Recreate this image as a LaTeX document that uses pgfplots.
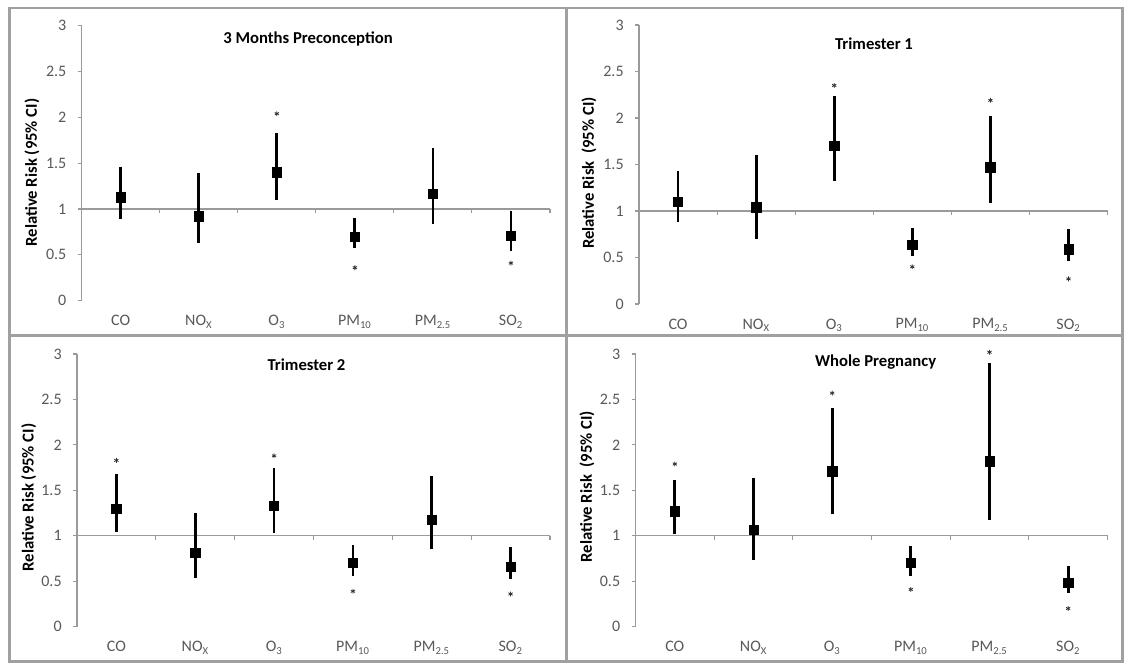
\documentclass[border=0pt]{standalone}
\usepackage{pgfplots}
\pgfplotsset{compat=1.18}
\usepackage{pgfplotstable}
\usepackage{fontspec}
\setmainfont{Carlito}
\definecolor{axisgray}{HTML}{9A9A9A}
\definecolor{framegray}{HTML}{A0A0A0}
\definecolor{ticktext}{HTML}{595959}

% x = category (0 CO, 1 NOx, 2 O3, 3 PM10, 4 PM2.5, 5 SO2); y = RR; ep/em = distance to upper/lower CI
\pgfplotstableread{
x y ep em
0 1.13 0.33 0.24
1 0.92 0.47 0.29
2 1.40 0.43 0.30
3 0.70 0.20 0.13
4 1.17 0.50 0.33
5 0.71 0.27 0.17
}\dataA
\pgfplotstableread{
x y
2 2.04
3 0.36
5 0.41
}\starA
\pgfplotstableread{
x y ep em
0 1.10 0.33 0.22
1 1.04 0.56 0.34
2 1.70 0.54 0.38
3 0.64 0.18 0.12
4 1.47 0.55 0.38
5 0.59 0.22 0.13
}\dataB
\pgfplotstableread{
x y
2 2.35
3 0.40
4 2.19
5 0.27
}\starB
\pgfplotstableread{
x y ep em
0 1.30 0.38 0.26
1 0.81 0.44 0.27
2 1.33 0.42 0.30
3 0.70 0.20 0.14
4 1.18 0.48 0.33
5 0.66 0.22 0.14
}\dataC
\pgfplotstableread{
x y
0 1.83
2 1.88
3 0.39
5 0.36
}\starC
\pgfplotstableread{
x y ep em
0 1.27 0.34 0.25
1 1.07 0.57 0.34
2 1.71 0.70 0.47
3 0.70 0.19 0.14
4 1.82 1.08 0.65
5 0.48 0.19 0.11
}\dataD
\pgfplotstableread{
x y
0 1.79
2 2.57
3 0.41
4 3.02
5 0.20
}\starD

\pgfplotsset{
  panel/.style={
    scale only axis, anchor=south west,
    xmin=-0.5, xmax=5.5, ymin=0, ymax=3, clip=false,
    axis x line*=bottom, axis y line*=left,
    x axis line style={draw=none},
    y axis line style={axisgray, line width=0.8pt},
    xtick={0,1,2,3,4,5},
    xticklabels={CO, NO\textsubscript{X}, O\textsubscript{3}, PM\textsubscript{10}, PM\textsubscript{2.5}, SO\textsubscript{2}},
    ytick={0,0.5,1,1.5,2,2.5,3},
    yticklabels={0,0.5,1,1.5,2,2.5,3},
    x tick style={draw=none},
    y tick style={axisgray, line width=0.8pt},
    tick align=outside, major tick length=3pt,
    ticklabel style={font=\fontsize{12}{14}\selectfont, text=ticktext},
    xticklabel style={yshift=-4.5pt},
    yticklabel style={xshift=-5pt},
  },
  rr/.style={only marks, mark=square*, mark size=3.5pt, black,
    error bars/.cd, y dir=both, y explicit, error mark=none,
    error bar style={line width=2.1pt, black}},
  star/.style={only marks, mark=asterisk, mark size=1.8pt, black!80, line width=0.6pt},
}
\newcommand{\refline}{%
  \draw[axisgray, line width=0.8pt] (axis cs:-0.5,1) -- (axis cs:5.5,1);
  \pgfplotsinvokeforeach{0.5,1.5,2.5,3.5,4.5,5.5}{\draw[axisgray, line width=0.8pt] (axis cs:##1,1) -- ([yshift=-3pt]axis cs:##1,1);}%
}

\begin{document}
\begin{tikzpicture}
\useasboundingbox (0pt,0pt) rectangle (843pt,497.25pt);
\fill[white] (0pt,0pt) rectangle (843pt,497.25pt);

% panel 1
\begin{axis}[panel, at={(61.275pt,271.725pt)}, width=351.2pt, height=206.25pt]
\refline
\addplot[rr] table[x=x, y=y, y error plus=ep, y error minus=em] {\dataA};
\addplot[star] table[x=x, y=y] {\starA};
\end{axis}

% panel 2
\begin{axis}[panel, at={(479.25pt,269.25pt)}, width=351.4pt, height=209.25pt]
\refline
\addplot[rr] table[x=x, y=y, y error plus=ep, y error minus=em] {\dataB};
\addplot[star] table[x=x, y=y] {\starB};
\end{axis}

% panel 3
\begin{axis}[panel, at={(57.75pt,27.225pt)}, width=354.75pt, height=204.5pt]
\refline
\addplot[rr] table[x=x, y=y, y error plus=ep, y error minus=em] {\dataC};
\addplot[star] table[x=x, y=y] {\starC};
\end{axis}

% panel 4
\begin{axis}[panel, at={(476.625pt,27.225pt)}, width=354pt, height=204.5pt]
\refline
\addplot[rr] table[x=x, y=y, y error plus=ep, y error minus=em] {\dataD};
\addplot[star] table[x=x, y=y] {\starD};
\end{axis}

% titles and axis titles
\begin{scope}[every node/.style={font=\bfseries\fontsize{12.5}{15}\selectfont, inner sep=0pt}]
\node at (231pt,467.775pt) {3 Months Preconception};
\node at (655.5pt,464.775pt) {Trimester 1};
\node at (229.875pt,224.025pt) {Trimester 2};
\node at (656.7pt,225.525pt) {Whole Pregnancy};
\node[rotate=90] at (24pt,367.875pt) {Relative Risk (95\% CI)};
\node[rotate=90] at (441.75pt,367.5pt) {Relative Risk\ \ (95\% CI)};
\node[rotate=90] at (21.525pt,124.125pt) {Relative Risk (95\% CI)};
\node[rotate=90] at (440.25pt,132.225pt) {Relative Risk\ \ (95\% CI)};
\end{scope}

% frames
\draw[framegray, line width=2pt] (6.975pt,491.25pt) rectangle (842.025pt,0.975pt);
\draw[framegray, line width=2pt] (425.025pt,491.25pt) -- (425.025pt,0.975pt);
\draw[framegray, line width=2pt] (6.975pt,245.625pt) -- (842.025pt,245.625pt);
\end{tikzpicture}
\end{document}
